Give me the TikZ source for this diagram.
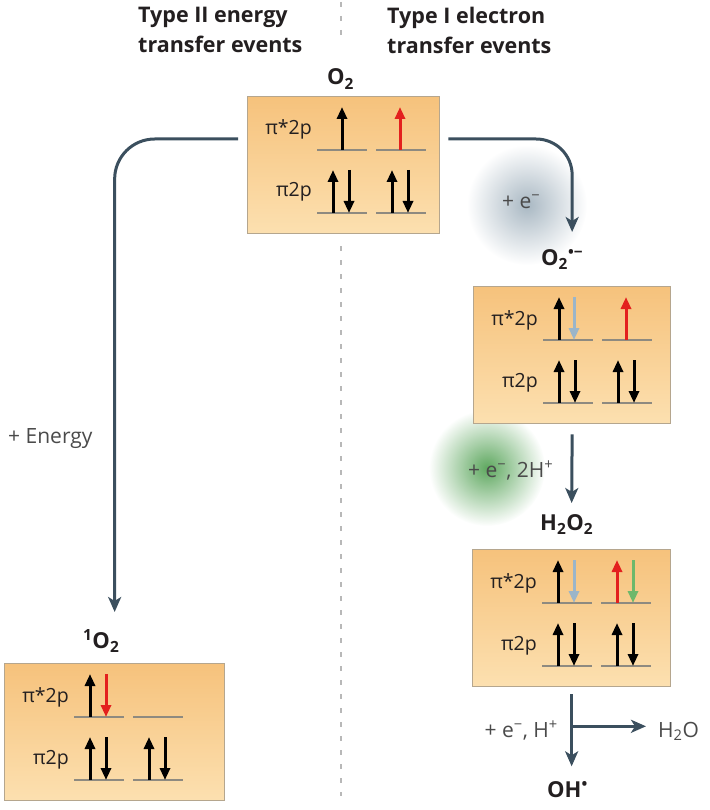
\documentclass[tikz,border=0pt]{standalone}
\usepackage{fontspec}
\setmainfont{Open Sans}
\usetikzlibrary{arrows.meta,calc,fadings}
\definecolor{flowc}{HTML}{3B4F5E}
\definecolor{levelc}{HTML}{8E8A80}
\definecolor{boxtop}{HTML}{F6C27C}
\definecolor{boxbot}{HTML}{FCE0B0}
\definecolor{boxedge}{HTML}{B5A68E}
\definecolor{txt}{HTML}{231F20}
\definecolor{softtxt}{HTML}{4A4A4A}
\definecolor{eblue}{HTML}{9BB5C9}
\definecolor{ered}{HTML}{E3201E}
\definecolor{egreen}{HTML}{6DB86B}
\definecolor{glowblue}{HTML}{A9B8C3}
\definecolor{glowgreen}{HTML}{5FA860}
\definecolor{dashc}{HTML}{B8B8B8}
\tikzfading[name=glowfade, inner color=transparent!0, outer color=transparent!100]
\tikzset{
  flow/.style={draw=flowc, line width=3pt, -{Stealth[length=15pt,width=13pt,inset=4pt]}},
  level/.style={draw=levelc, line width=2pt},
  el/.style={line width=3pt, -{Triangle[length=12pt,width=10pt]}},
  mobox/.style={draw=boxedge, line width=1.3pt, top color=boxtop, bottom color=boxbot,
    inner sep=0pt, anchor=north west, minimum height=137pt},
  orblab/.style={font=\fontsize{19.5}{24}\selectfont, text=txt, inner sep=0pt},
  species/.style={font=\bfseries\fontsize{22}{26}\selectfont, text=txt, inner sep=0pt},
  reag/.style={font=\fontsize{21}{24}\selectfont, text=softtxt, inner sep=0pt},
  title/.style={font=\bfseries\fontsize{21.5}{30}\selectfont, text=txt, inner sep=0pt, align=left, anchor=north west},
}
\newcommand\orbs[1]{%
  \node[orblab, anchor=base east] (#1-l1) at ($(#1.north west)+(65,39)$) {π*2p};
  \node[orblab, anchor=base east] (#1-l2) at ($(#1.north west)+(65,101)$) {π2p};
  \draw[level] ($(#1.north west)+(70,54)$) -- ++(50,0);
  \draw[level] ($(#1.north west)+(129,54)$) -- ++(50,0);
  \draw[level] ($(#1.north west)+(70,117)$) -- ++(50,0);
  \draw[level] ($(#1.north west)+(129,117)$) -- ++(50,0);
  \eup{#1}{86}{117}{black}\edn{#1}{102}{117}{black}
  \eup{#1}{145}{117}{black}\edn{#1}{161}{117}{black}
}
\newcommand\eup[4]{\draw[el,#4] ($(#1.north west)+(#2,#3)$) -- ++(0,-43);}
\newcommand\edn[4]{\draw[el,#4] ($(#1.north west)+(#2,#3-43)$) -- ++(0,43);}
\begin{document}
\begin{tikzpicture}[x=1pt,y=-1pt]
\useasboundingbox (0,0) rectangle (709,810);
% divider
\draw[dashc, line width=2pt, dash pattern=on 5pt off 9pt] (341,2) -- (341,38);
\draw[dashc, line width=2pt, dash pattern=on 5pt off 9pt] (341,246) -- (341,796);
% glows
\fill[glowblue, path fading=glowfade] (527,205) circle (60);
\fill[glowgreen, path fading=glowfade] (487,468) circle (58);
% titles
\node[title] (t2) at (138,7) {Type II energy\\transfer events};
\node[title] (t1) at (387,7) {Type I electron\\transfer events};
% boxes
\node[mobox, minimum width=192pt] (o2) at (247,96) {};
\node[mobox, minimum width=197pt] (sup) at (473,286) {};
\node[mobox, minimum width=198pt] (hoo) at (472,549) {};
\node[mobox, minimum width=220pt] (sing) at (4,663) {};
\orbs{o2}\orbs{sup}\orbs{hoo}\orbs{sing}
% upper level electrons
\eup{o2}{95}{54}{black}\eup{o2}{153}{54}{ered}
\eup{sup}{86}{54}{black}\edn{sup}{101}{54}{eblue}\eup{sup}{153}{54}{ered}
\eup{hoo}{86}{54}{black}\edn{hoo}{102}{54}{eblue}\eup{hoo}{145}{54}{ered}\edn{hoo}{161}{54}{egreen}
\eup{sing}{86}{54}{black}\edn{sing}{102}{54}{ered}
% species labels
\node[species, anchor=base west] (lo2) at (327,85) {O\textsubscript{2}};
\node[species, anchor=base west] (lsup) at (541,265) {O\textsubscript{2}\textsuperscript{•−}};
\node[species, anchor=base west] (lhoo) at (540,530) {H\textsubscript{2}O\textsubscript{2}};
\node[species, anchor=base west] (lsing) at (83,648) {\textsuperscript{1}O\textsubscript{2}};
\node[species, anchor=base west] (loh) at (547,797) {OH\textsuperscript{•}};
\node[reag, anchor=base west] (lh2o) at (658,737) {H\textsubscript{2}O};
% reagent labels
\node[reag, anchor=base west] (r1) at (502,208) {+ e\textsuperscript{−}};
\node[reag, anchor=base west] (r2) at (468,477) {+ e\textsuperscript{−}, 2H\textsuperscript{+}};
\node[reag, anchor=base east] (r3) at (558,737) {+ e\textsuperscript{−}, H\textsuperscript{+}};
\node[reag, anchor=base west] (r4) at (8,443) {+ Energy};
% connectors
\draw[flow, rounded corners=40pt] ($(o2.north west)+(-9,43)$) -| ($(sing.north)+(0,-51)$);
\draw[flow, rounded corners=36pt] ($(o2.north east)+(8,43)$) -| ($(sup.north)+(0,-54)$);
\draw[flow] ($(sup.south)+(0,10)$) -- ($(hoo.north)+(0,-46)$);
\draw[flow] ($(hoo.south)+(0,7)$) -- ($(hoo.south)+(0,79)$);
\coordinate (br) at ($(hoo.south)+(0,39)$);
\draw[flow] (br) -- ($(br -| lh2o.west)+(-12,0)$);
\end{tikzpicture}
\end{document}
